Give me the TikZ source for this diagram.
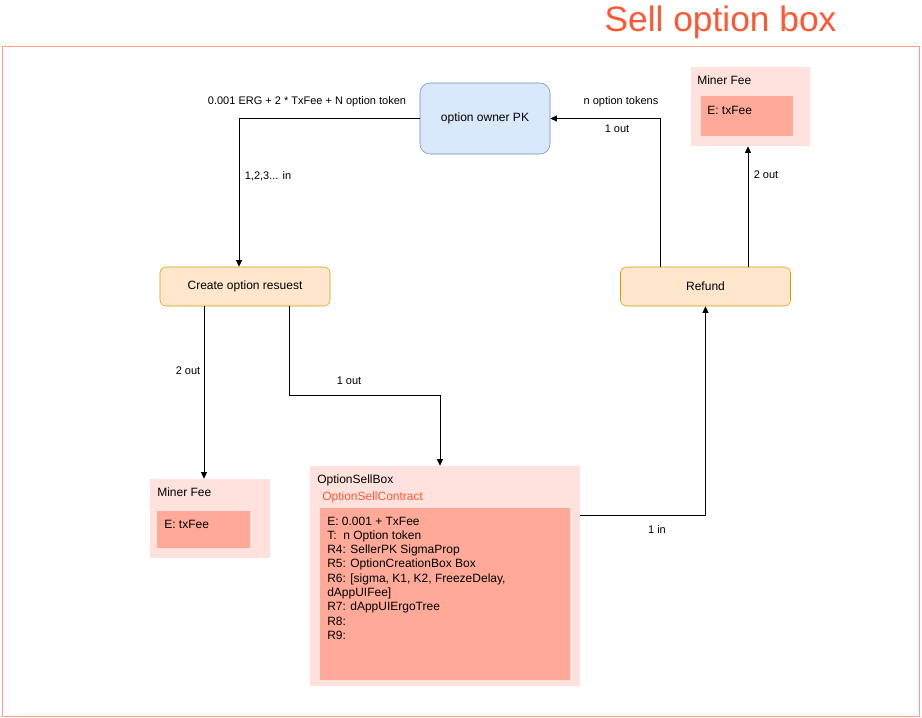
\documentclass[tikz,border=0pt]{standalone}
\usepackage{fontspec}
\setmainfont{Liberation Sans}
\usetikzlibrary{calc,arrows.meta}
\definecolor{titlered}{RGB}{255,87,51}
\definecolor{framered}{RGB}{255,155,135}
\definecolor{boxlight}{RGB}{255,226,222}
\definecolor{boxdark}{RGB}{255,169,152}
\definecolor{bluefill}{RGB}{218,232,252}
\definecolor{blueline}{RGB}{108,142,191}
\definecolor{orfill}{RGB}{255,230,204}
\definecolor{orline}{RGB}{215,155,0}
\tikzset{
  procbox/.style={draw=orline,fill=orfill,rounded corners=4.5pt,minimum width=127.5pt,minimum height=29.25pt,inner sep=0pt,font=\fontsize{9pt}{11pt}\selectfont},
  ownerbox/.style={draw=blueline,fill=bluefill,rounded corners=7.5pt,minimum width=97.5pt,minimum height=53.25pt,inner sep=0pt,font=\fontsize{9pt}{11pt}\selectfont},
  outerbox/.style={fill=boxlight,draw=none,inner sep=0pt},
  innerbox/.style={fill=boxdark,draw=none,inner sep=0pt},
  txt/.style={anchor=west,inner sep=0pt,font=\fontsize{9pt}{11pt}\selectfont},
  lbl/.style={inner sep=0pt,font=\fontsize{8.25pt}{10pt}\selectfont},
  arr/.style={draw=black,line width=0.75pt,-{Triangle[length=5pt,width=4.5pt]}},
}
\begin{document}
\begin{tikzpicture}[x=0.75pt,y=-0.75pt]
\useasboundingbox (0,0) rectangle (922,718);
% frame and title
\node[draw=framered,line width=0.75pt,minimum width=687.75pt,minimum height=502.5pt,inner sep=0pt] (frame) at (460.5,381) {};
\node[inner sep=0pt,text=titlered,font=\fontsize{26.5pt}{30pt}\selectfont] (title) at (720.5,22) {Sell option box};

% main boxes
\node[ownerbox] (owner) at (485,118.5) {option owner PK};
\node[procbox] (create) at (245,286.5) {Create option resuest};
\node[procbox] (refund) at (705.5,286.5) {Refund};

% Miner fee top right
\node[outerbox,minimum width=89.25pt,minimum height=59.25pt] (mfTop) at (750.5,106.5) {};
\node[innerbox,minimum width=69pt,minimum height=30pt] (mfTopIn) at (747,116) {};
\node[txt] (mfTopT) at (697,80) {Miner Fee};
\node[txt] (mfTopE) at (707,110) {E: txFee};

% Miner fee bottom left
\node[outerbox,minimum width=90pt,minimum height=59.25pt] (mfBot) at (210,518.5) {};
\node[innerbox,minimum width=69.75pt,minimum height=27.75pt] (mfBotIn) at (203.5,529.5) {};
\node[txt] (mfBotT) at (157,492) {Miner Fee};
\node[txt] (mfBotE) at (164,524) {E: txFee};

% Option sell box
\node[outerbox,minimum width=202.5pt,minimum height=165pt] (osb) at (445,576) {};
\node[innerbox,minimum width=187.5pt,minimum height=129pt] (osbIn) at (445,594) {};
\node[txt] (osbT) at (317,480) {OptionSellBox};
\node[txt,text=titlered] (osbC) at (322,497) {OptionSellContract};
\node[anchor=north west,inner sep=0pt,align=left,font=\fontsize{9pt}{10.7pt}\selectfont] (osbBody) at (327,516.5) {E: 0.001 + TxFee\\
T:\ \ n Option token\\
R4: SellerPK SigmaProp\\
R5: OptionCreationBox Box\\
R6: [sigma, K1, K2, FreezeDelay,\\
dAppUIFee]\\
R7: dAppUIErgoTree\\
R8:\\
R9:};

% connectors
\draw[arr] (owner.west) -| ($(create.north)+(-6,0)$);
\node[lbl] (l1) at (307,102) {0.001 ERG + 2 * TxFee + N option token};
\node[lbl] (l2) at (268,176) {1,2,3... in};

\coordinate (r1) at ($(refund.north)+(-45.5,0)$);
\draw[arr] (r1) |- (owner.east);
\node[lbl] (l3) at (621,102) {n option tokens};
\node[lbl] (l4) at (617,129) {1 out};

\coordinate (r2) at ($(refund.north)+(42.5,0)$);
\draw[arr] (r2) -- (r2 |- mfTop.south);
\node[lbl] (l5) at (766,175) {2 out};

\coordinate (c1) at ($(create.south)+(-41,0)$);
\draw[arr] (c1) -- (c1 |- mfBot.north);
\node[lbl] (l6) at (188,371) {2 out};

\coordinate (c2) at ($(create.south)+(44,0)$);
\draw[arr] (c2) -- ++(0,89.5) -| ($(osb.north)+(-5,0)$);
\node[lbl] (l7) at (349,381) {1 out};

\coordinate (o1) at ($(osb.north east)+(0,50)$);
\draw[arr] (o1) -| (refund.south);
\node[lbl] (l8) at (657,530) {1 in};
\end{tikzpicture}
\end{document}
